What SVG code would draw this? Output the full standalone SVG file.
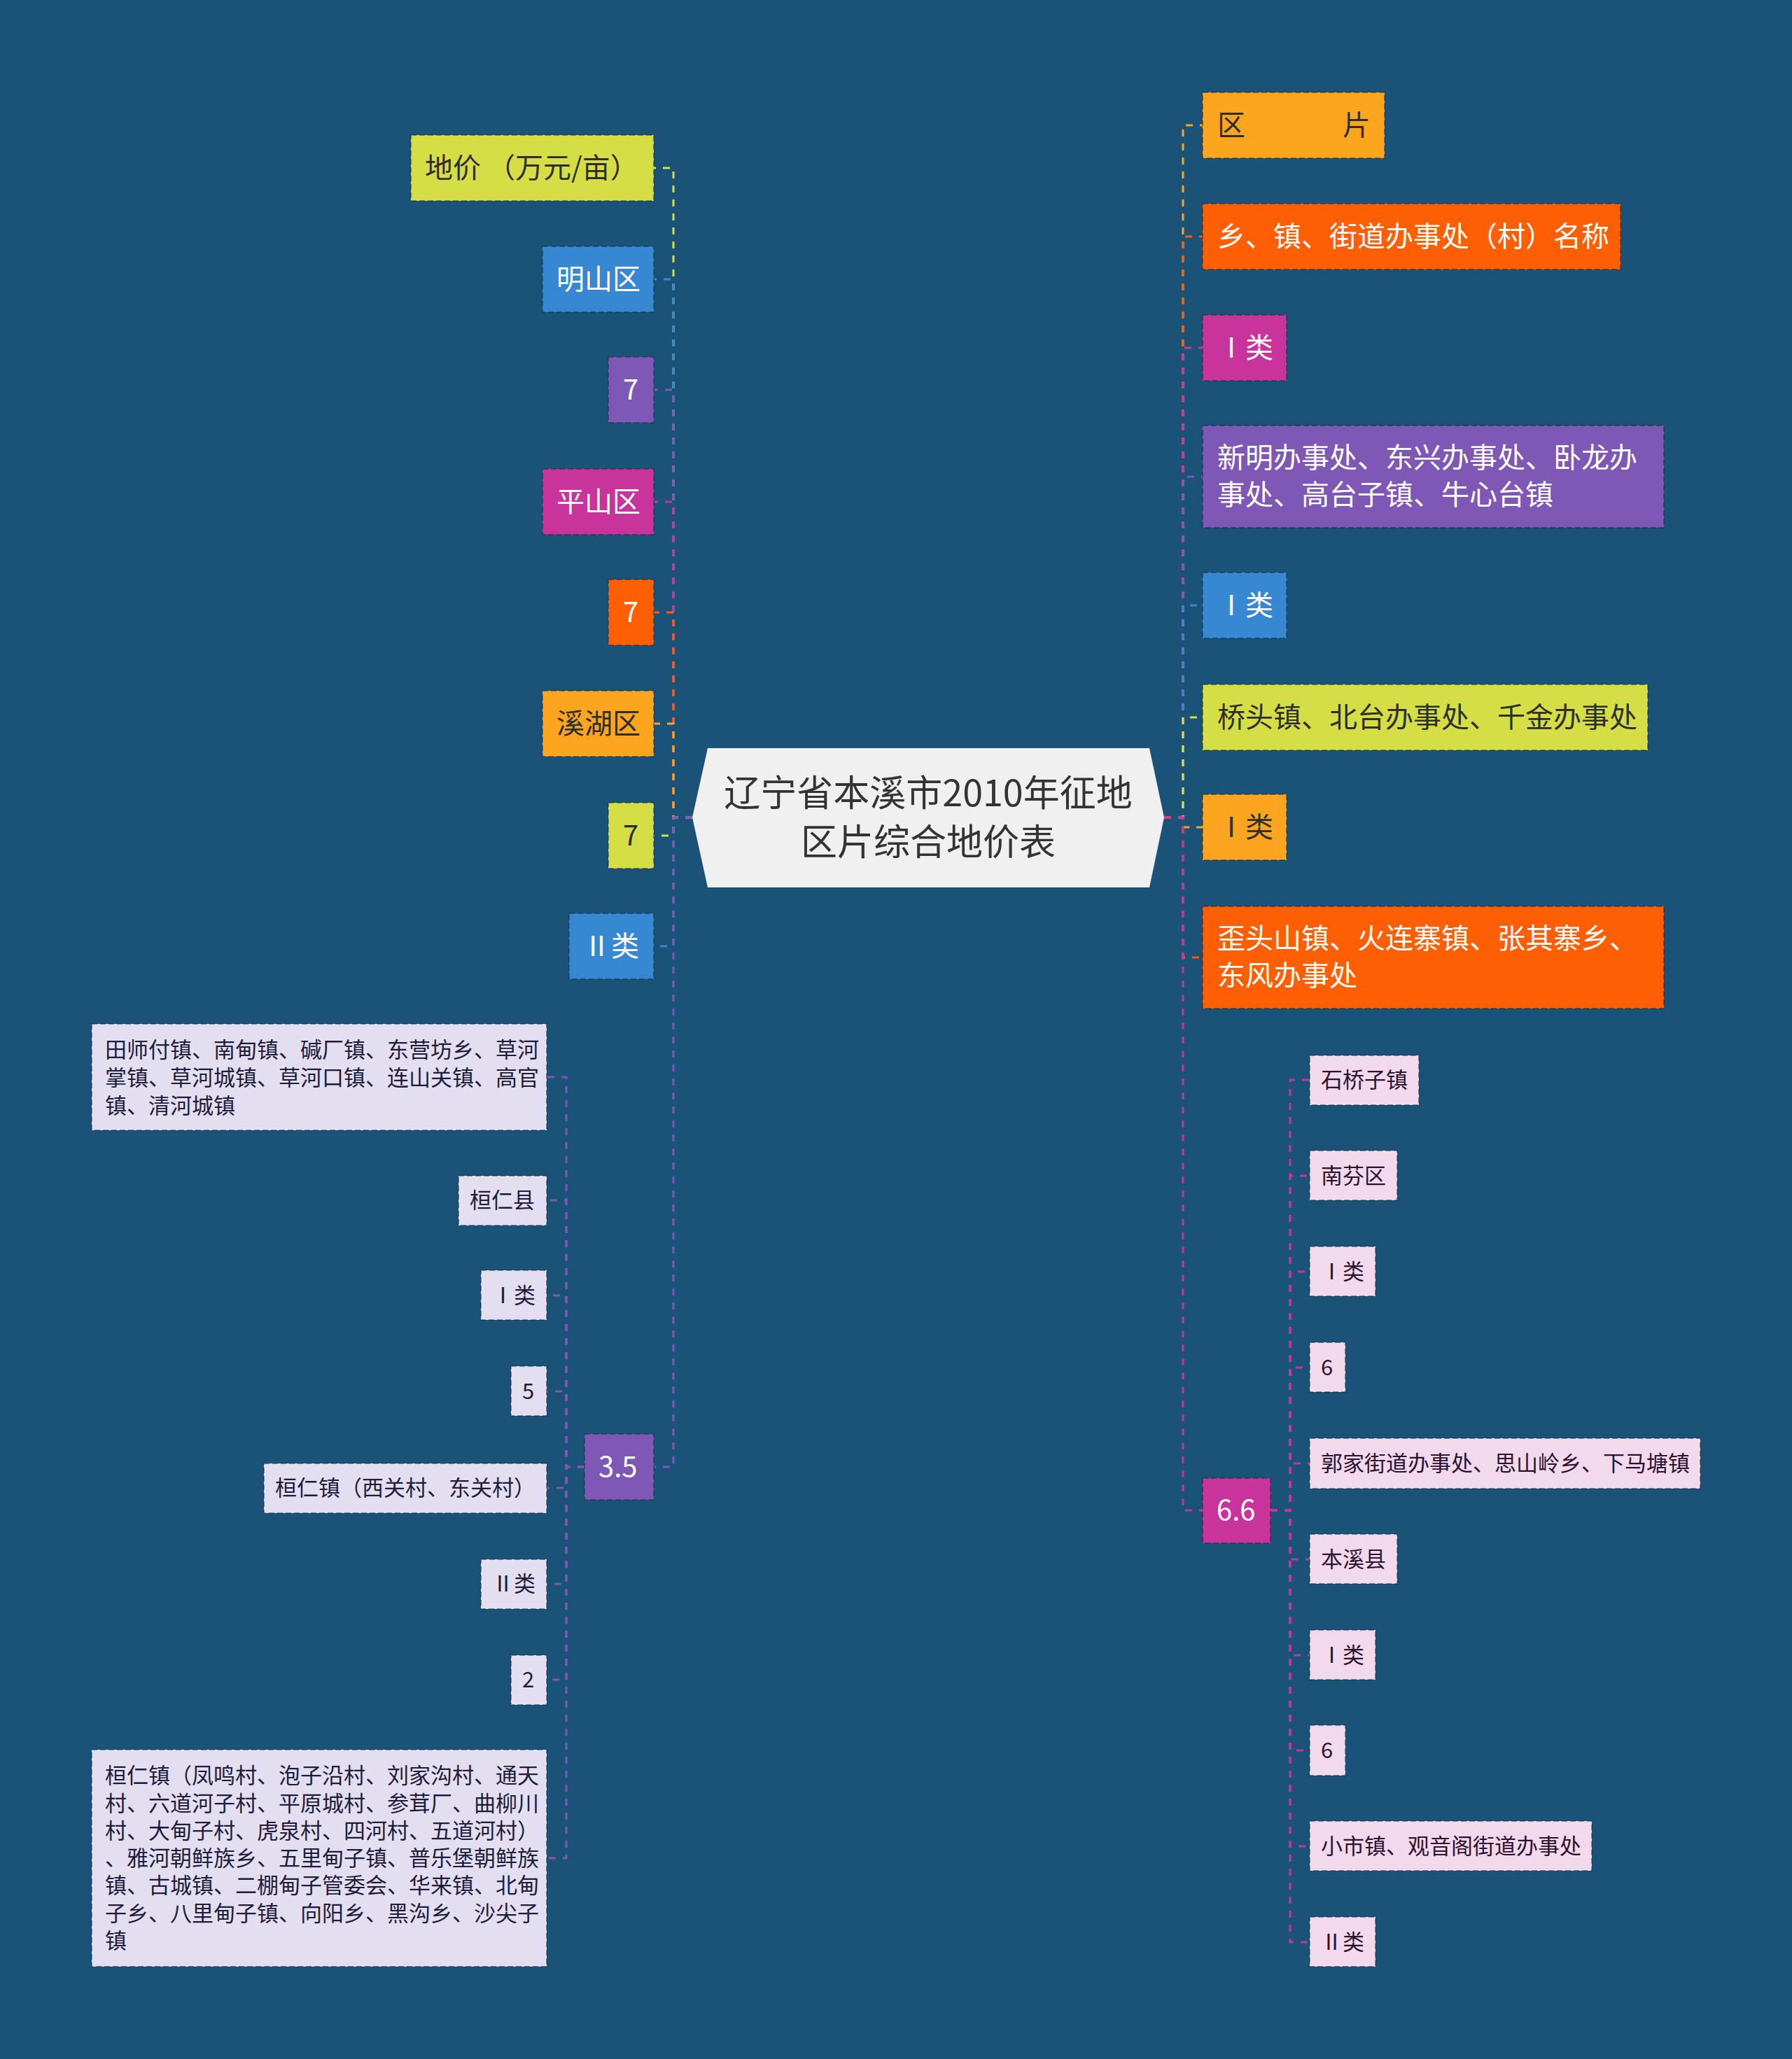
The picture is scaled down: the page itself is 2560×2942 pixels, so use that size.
<svg xmlns="http://www.w3.org/2000/svg" width="2560" height="2942" viewBox="0 0 2560 2942">
<style>
text{font-family:"Noto Sans CJK SC","Noto Sans",sans-serif}
.t40{font-size:40px}
.t31{font-size:31px}
.w{fill:#ffffff}
.d{fill:#2e2e2e}
.dl{fill:#1d1c3d}
.dp{fill:#2d1230}
.box{stroke:rgba(20,40,60,0.45);stroke-width:2;stroke-dasharray:8 4}
.e{fill:none;stroke-width:3;stroke-dasharray:10 10}
.yg{fill:#d5df45}.bl{fill:#3788d2}.pu{fill:#7f58b5}.mg{fill:#c8349b}.or{fill:#fe5e04}.oy{fill:#fea520}
.lv{fill:#e4dff0}.pk{fill:#f3d9ec}
.syg{stroke:#d5df45}.sbl{stroke:#3788d2}.spu{stroke:#7f58b5}.smg{stroke:#c8349b}.sor{stroke:#fe5e04}.soy{stroke:#fea520}
</style>
<rect x="0" y="0" width="2560" height="2942" fill="#1a5377"/>

<g id="connectors">
  <!-- left main -->
  <path class="e syg" d="M989 1168H962V240H934"/>
  <path class="e sbl" d="M989 1168H962V399H934"/>
  <path class="e spu" d="M989 1168H962V557H934"/>
  <path class="e smg" d="M989 1168H962V717H934"/>
  <path class="e sor" d="M989 1168H962V875H934"/>
  <path class="e soy" d="M989 1168H962V1034H934"/>
  <path class="e syg" d="M989 1168H962V1194H934"/>
  <path class="e sbl" d="M989 1168H962V1352H934"/>
  <path class="e spu" d="M989 1168H962V2096H934"/>
  <!-- right main -->
  <path class="e soy" d="M1663 1168H1690V179H1718"/>
  <path class="e sor" d="M1663 1168H1690V338H1718"/>
  <path class="e smg" d="M1663 1168H1690V497H1718"/>
  <path class="e spu" d="M1663 1168H1690V681H1718"/>
  <path class="e sbl" d="M1663 1168H1690V865H1718"/>
  <path class="e syg" d="M1663 1168H1690V1025H1718"/>
  <path class="e soy" d="M1663 1168H1690V1182H1718"/>
  <path class="e sor" d="M1663 1168H1690V1368H1718"/>
  <path class="e smg" d="M1663 1168H1690V2158H1718"/>
  <!-- left sub (3.5) -->
  <path class="e spu" d="M835 2096H809V1539H781"/>
  <path class="e spu" d="M835 2096H809V1715H781"/>
  <path class="e spu" d="M835 2096H809V1851H781"/>
  <path class="e spu" d="M835 2096H809V1988H781"/>
  <path class="e spu" d="M835 2096H809V2126H781"/>
  <path class="e spu" d="M835 2096H809V2263H781"/>
  <path class="e spu" d="M835 2096H809V2400H781"/>
  <path class="e spu" d="M835 2096H809V2655H781"/>
  <!-- right sub (6.6) -->
  <path class="e smg" d="M1815 2158H1843V1543H1871"/>
  <path class="e smg" d="M1815 2158H1843V1680H1871"/>
  <path class="e smg" d="M1815 2158H1843V1817H1871"/>
  <path class="e smg" d="M1815 2158H1843V1954H1871"/>
  <path class="e smg" d="M1815 2158H1843V2091H1871"/>
  <path class="e smg" d="M1815 2158H1843V2228H1871"/>
  <path class="e smg" d="M1815 2158H1843V2365H1871"/>
  <path class="e smg" d="M1815 2158H1843V2501H1871"/>
  <path class="e smg" d="M1815 2158H1843V2638H1871"/>
  <path class="e smg" d="M1815 2158H1843V2775H1871"/>
</g>

<g id="root">
  <polygon points="1011,1069 1642,1069 1663,1168 1642,1268 1011,1268 989,1168" fill="#f0f0f0"/>
  <text x="1326" y="1152" text-anchor="middle" font-size="52" fill="#333333">辽宁省本溪市2010年征地</text>
  <text x="1326" y="1222" text-anchor="middle" font-size="52" fill="#333333">区片综合地价表</text>
</g>

<!-- left main nodes -->
<g id="n-dijia"><rect class="box yg" x="587" y="193" width="347" height="94"/><text class="t40 d" x="607" y="254">地价 （万元/亩）</text></g>
<g id="n-mingshan"><rect class="box bl" x="775" y="352" width="159" height="94"/><text class="t40 w" x="795" y="413">明山区</text></g>
<g id="n-7a"><rect class="box pu" x="869" y="510" width="65" height="94"/><text class="t40 w" x="890" y="571">7</text></g>
<g id="n-pingshan"><rect class="box mg" x="775" y="670" width="159" height="94"/><text class="t40 w" x="795" y="731">平山区</text></g>
<g id="n-7b"><rect class="box or" x="869" y="828" width="65" height="94"/><text class="t40 w" x="890" y="889">7</text></g>
<g id="n-xihu"><rect class="box oy" x="775" y="987" width="159" height="94"/><text class="t40 d" x="795" y="1048">溪湖区</text></g>
<g id="n-7c"><rect class="box yg" x="869" y="1147" width="65" height="94"/><text class="t40 d" x="890" y="1208">7</text></g>
<g id="n-class2a"><rect class="box bl" x="813" y="1305" width="121" height="94"/><text class="t40 w" x="833" y="1366">Ⅱ类</text></g>
<g id="n-35"><rect class="box pu" x="835" y="2049" width="99" height="94"/><text class="t40 w" x="855" y="2110">3.5</text></g>

<!-- left sub nodes -->
<g id="s-tianshifu"><rect class="box lv" x="131" y="1463" width="650" height="152"/>
  <text class="t31 dl" x="150" y="1511">田师付镇、南甸镇、碱厂镇、东营坊乡、草河</text>
  <text class="t31 dl" x="150" y="1551">掌镇、草河城镇、草河口镇、连山关镇、高官</text>
  <text class="t31 dl" x="150" y="1591">镇、清河城镇</text></g>
<g id="s-huanrenxian"><rect class="box lv" x="655" y="1680" width="126" height="71"/><text class="t31 dl" x="671" y="1726">桓仁县</text></g>
<g id="s-class1a"><rect class="box lv" x="687" y="1815" width="94" height="71"/><text class="t31 dl" x="703" y="1862">Ⅰ类</text></g>
<g id="s-5"><rect class="box lv" x="730" y="1952" width="51" height="71"/><text class="t31 dl" x="746" y="1999">5</text></g>
<g id="s-huanrenzhen1"><rect class="box lv" x="377" y="2091" width="404" height="71"/><text class="t31 dl" x="393" y="2137">桓仁镇（西关村、东关村）</text></g>
<g id="s-class2b"><rect class="box lv" x="687" y="2228" width="94" height="71"/><text class="t31 dl" x="703" y="2274">Ⅱ类</text></g>
<g id="s-2"><rect class="box lv" x="730" y="2365" width="51" height="71"/><text class="t31 dl" x="746" y="2411">2</text></g>
<g id="s-huanrenzhen2"><rect class="box lv" x="131" y="2500" width="650" height="310"/>
  <text class="t31 dl" x="150" y="2548">桓仁镇（凤鸣村、泡子沿村、刘家沟村、通天</text>
  <text class="t31 dl" x="150" y="2588">村、六道河子村、平原城村、参茸厂、曲柳川</text>
  <text class="t31 dl" x="150" y="2627">村、大甸子村、虎泉村、四河村、五道河村）</text>
  <text class="t31 dl" x="150" y="2666">、雅河朝鲜族乡、五里甸子镇、普乐堡朝鲜族</text>
  <text class="t31 dl" x="150" y="2705">镇、古城镇、二棚甸子管委会、华来镇、北甸</text>
  <text class="t31 dl" x="150" y="2745">子乡、八里甸子镇、向阳乡、黑沟乡、沙尖子</text>
  <text class="t31 dl" x="150" y="2784">镇</text></g>

<!-- right main nodes -->
<g id="n-qupian"><rect class="box oy" x="1718" y="132" width="260" height="94"/><text class="t40 d" y="193"><tspan x="1739">区</tspan><tspan x="1918">片</tspan></text></g>
<g id="n-xiangzhen"><rect class="box or" x="1718" y="291" width="597" height="94"/><text class="t40 w" x="1739" y="352">乡、镇、街道办事处（村）名称</text></g>
<g id="n-class1b"><rect class="box mg" x="1718" y="450" width="120" height="94"/><text class="t40 w" x="1739" y="511">Ⅰ类</text></g>
<g id="n-xinming"><rect class="box pu" x="1718" y="608" width="659" height="146"/>
  <text class="t40 w" x="1739" y="668">新明办事处、东兴办事处、卧龙办</text>
  <text class="t40 w" x="1739" y="721">事处、高台子镇、牛心台镇</text></g>
<g id="n-class1c"><rect class="box bl" x="1718" y="818" width="120" height="94"/><text class="t40 w" x="1739" y="879">Ⅰ类</text></g>
<g id="n-qiaotou"><rect class="box yg" x="1718" y="978" width="636" height="94"/><text class="t40 d" x="1739" y="1039">桥头镇、北台办事处、千金办事处</text></g>
<g id="n-class1d"><rect class="box oy" x="1718" y="1135" width="120" height="94"/><text class="t40 d" x="1739" y="1196">Ⅰ类</text></g>
<g id="n-waitoushan"><rect class="box or" x="1718" y="1295" width="659" height="146"/>
  <text class="t40 w" x="1739" y="1355">歪头山镇、火连寨镇、张其寨乡、</text>
  <text class="t40 w" x="1739" y="1408">东风办事处</text></g>
<g id="n-66"><rect class="box mg" x="1718" y="2112" width="97" height="93"/><text class="t40 w" x="1738" y="2172">6.6</text></g>

<!-- right sub nodes -->
<g id="r-shiqiaozi"><rect class="box pk" x="1871" y="1508" width="156" height="71"/><text class="t31 dp" x="1887" y="1554">石桥子镇</text></g>
<g id="r-nanfen"><rect class="box pk" x="1871" y="1644" width="125" height="71"/><text class="t31 dp" x="1887" y="1691">南芬区</text></g>
<g id="r-class1a"><rect class="box pk" x="1871" y="1781" width="94" height="71"/><text class="t31 dp" x="1887" y="1828">Ⅰ类</text></g>
<g id="r-6a"><rect class="box pk" x="1871" y="1918" width="51" height="71"/><text class="t31 dp" x="1887" y="1965">6</text></g>
<g id="r-guojia"><rect class="box pk" x="1871" y="2055" width="558" height="72"/><text class="t31 dp" x="1887" y="2102">郭家街道办事处、思山岭乡、下马塘镇</text></g>
<g id="r-benxixian"><rect class="box pk" x="1871" y="2192" width="125" height="71"/><text class="t31 dp" x="1887" y="2239">本溪县</text></g>
<g id="r-class1b"><rect class="box pk" x="1871" y="2329" width="94" height="71"/><text class="t31 dp" x="1887" y="2376">Ⅰ类</text></g>
<g id="r-6b"><rect class="box pk" x="1871" y="2465" width="51" height="72"/><text class="t31 dp" x="1887" y="2512">6</text></g>
<g id="r-xiaoshi"><rect class="box pk" x="1871" y="2602" width="403" height="71"/><text class="t31 dp" x="1887" y="2649">小市镇、观音阁街道办事处</text></g>
<g id="r-class2"><rect class="box pk" x="1871" y="2739" width="94" height="71"/><text class="t31 dp" x="1887" y="2786">Ⅱ类</text></g>
</svg>
